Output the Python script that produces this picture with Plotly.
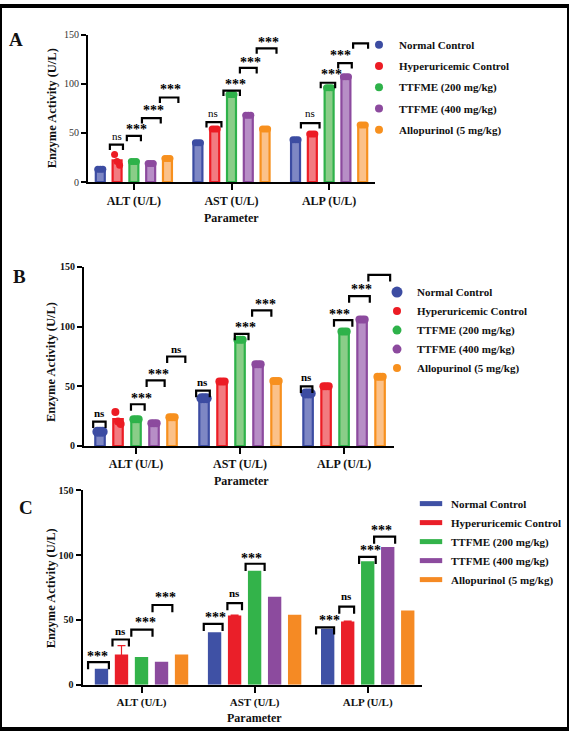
import plotly.graph_objects as go

groups = ["Normal Control", "Hyperuricemic Control", "TTFME (200 mg/kg)",
          "TTFME (400 mg/kg)", "Allopurinol (5 mg/kg)"]
params = ["ALT (U/L)", "AST (U/L)", "ALP (U/L)"]

# bar heights, one list per group, values for ALT, AST, ALP
a_means = [[13, 40, 43], [22, 54, 49], [21, 89, 96], [19, 68, 107], [24, 54, 58]]
b_means = [[12, 40, 44], [22.5, 54, 50], [22.5, 89, 96], [19, 68.5, 106], [24, 54.5, 58]]
c_means = [[12.4, 40.5, 43.2], [23.3, 53.4, 48.7], [21.4, 88, 95.3], [17.7, 67.8, 106.2], [23.3, 54, 57.3]]

# individual points that sit away from the bar top: (group, parameter) -> values
a_points = {(1, 0): [28, 21, 17]}
b_points = {(1, 0): [28.5, 20.5, 18.5]}

# error bar of panel C (Hyperuricemic Control only is visible)
c_err_hc = [6.8, 0.4, 0.4]

# significance brackets: (parameter, from slot, to slot, height, label, label slot, label height)
a_brackets = [
    (0, 0.57, 1.35, 38, "ns", 0.99, 47),
    (0, 1.58, 2.42, 47, "***", 2.18, 57),
    (0, 2.48, 3.60, 65, "***", 3.19, 76),
    (0, 3.55, 4.65, 86, "***", 4.17, 97),
    (1, 0.51, 1.40, 61, "ns", 0.87, 70.5),
    (1, 1.52, 2.50, 93, "***", 2.24, 102),
    (1, 2.50, 3.50, 116, "***", 3.13, 125),
    (1, 3.50, 4.68, 136, "***", 4.23, 145),
    (2, 0.32, 1.43, 60, "ns", 0.87, 70),
    (2, 1.50, 2.36, 101, "***", 2.16, 112),
    (2, 2.54, 3.35, 121, "***", 2.70, 132),
    (2, 3.43, 4.32, 141, "***", 3.65, 152),
]
b_brackets = [
    (0, -0.38, 0.31, 20.5, "ns", -0.03, 28),
    (0, 1.72, 2.48, 35, "***", 2.28, 42),
    (0, 2.59, 3.59, 55, "***", 3.26, 62),
    (0, 3.73, 4.74, 75, "ns", 4.24, 81.6),
    (1, -0.44, 0.32, 46.4, "ns", -0.06, 54),
    (1, 1.71, 2.47, 94, "***", 2.28, 102),
    (1, 2.67, 3.74, 113.7, "***", 3.39, 121),
    (2, -0.40, 0.24, 50, "ns", -0.07, 57.7),
    (2, 1.44, 2.46, 105.5, "***", 1.76, 112.6),
    (2, 2.28, 3.43, 125.6, "***", 2.98, 133.8),
    (2, 3.35, 4.56, 143.4, "ns", 3.94, 151),
]
c_brackets = [
    (0, -0.67, 0.37, 17.5, "***", -0.18, 24.3),
    (0, 0.55, 1.37, 34.9, "ns", 0.97, 41.7),
    (0, 1.49, 2.55, 42.5, "***", 2.18, 50),
    (0, 2.55, 3.54, 61.5, "***", 3.22, 69.8),
    (1, -0.54, 0.40, 47, "***", 0.04, 53.9),
    (1, 0.64, 1.37, 63, "ns", 1.0, 70.6),
    (1, 1.55, 2.50, 93.3, "***", 1.82, 100),
    (2, -0.58, 0.32, 44.3, "***", 0.07, 51.8),
    (2, 0.58, 1.32, 60.2, "ns", 0.96, 68.3),
    (2, 1.57, 2.40, 98.6, "***", 2.12, 105.7),
    (2, 2.32, 3.37, 114.3, "***", 2.67, 120.9),
]

line_cols = ["#3C4CA2", "#EC1C24", "#2EB24A", "#8C4A9E", "#F7901E"]
fill_cols = ["#7E87C4", "#F27B80", "#8ACD88", "#B78EC6", "#FBC189"]
solid_cols = ["#3F51A5", "#EA1F29", "#33B34A", "#8C4B9E", "#F58A24"]

SERIF = "Liberation Serif"
W, H = 569, 735

panels = [
    dict(tag="A", ax="", means=a_means, points=a_points, brackets=a_brackets, style="dots",
         px=(88, 375), py=(29, 179), xr=[-0.47, 2.47], pitch=0.172, bw=0.092,
         legend="legend", leg=(359, 82.5), letter=(16, 34), ytitle=(52, 104), xtitle=(231, 216),
         yfont=dict(size=10, color="#333"), xfont=12, dot=[7, 7, 7, 7, 7], key=[8, 8, 8, 8, 8]),
    dict(tag="B", ax="2", means=b_means, points=b_points, brackets=b_brackets, style="dots",
         px=(84, 394), py=(265.3, 447.3), xr=[-0.5, 2.48], pitch=0.173, bw=0.091,
         legend="legend2", leg=(377, 329.5), letter=(19, 274.5), ytitle=(51, 362), xtitle=(241, 483),
         yfont=dict(size=10, color="#111", weight="bold"), xfont=12,
         dot=[10, 8, 8, 8, 8], key=[11, 8, 9, 9, 8]),
    dict(tag="C", ax="3", means=c_means, points={}, brackets=c_brackets, style="solid",
         px=(82.7, 422), py=(492.3, 690), xr=[-0.52, 2.48], pitch=0.177, bw=0.118,
         legend="legend3", leg=(411, 544.5), letter=(26, 510), ytitle=(51, 592), xtitle=(254, 724),
         yfont=dict(size=10, color="#111", weight="bold"), xfont=11),
]

fig = go.Figure()
shapes = []
annotations = []
layout = {}


def paper_text(x, y, text, size, weight="bold", angle=0):
    return dict(x=x / W, y=1 - y / H, xref="paper", yref="paper", text=text,
                xanchor="center", yanchor="middle", textangle=angle, showarrow=False,
                font=dict(family=SERIF, size=size, color="#111", weight=weight))


for p in panels:
    xa, ya = "x" + p["ax"], "y" + p["ax"]
    pitch, bw = p["pitch"], p["bw"]
    for k, g in enumerate(groups):
        off = (k - 2) * pitch
        if p["style"] == "dots":
            fig.add_trace(go.Bar(
                x=[0, 1, 2], y=p["means"][k], offset=off - bw / 2, width=bw,
                marker=dict(color=fill_cols[k], line=dict(color=line_cols[k], width=2.2)),
                showlegend=False, xaxis=xa, yaxis=ya))
            px_, py_ = [], []
            for i in range(3):
                vals = p["points"].get((k, i), [p["means"][k][i]] * 3)
                for j, v in enumerate(vals):
                    px_.append(i + off + (j - 1) * bw * 0.28)
                    py_.append(v)
            fig.add_trace(go.Scatter(
                x=px_, y=py_, mode="markers", marker=dict(color=line_cols[k], size=p["dot"][k]),
                showlegend=False, xaxis=xa, yaxis=ya, cliponaxis=False))
            fig.add_trace(go.Scatter(
                x=[None], y=[None], mode="markers", name=g,
                marker=dict(color=line_cols[k], size=p["key"][k]),
                legend=p["legend"], legendgroup=p["tag"] + str(k), xaxis=xa, yaxis=ya))
        else:
            err = dict(type="data", array=c_err_hc, color=solid_cols[k], thickness=1.2, width=4,
                       visible=True) if k == 1 else None
            fig.add_trace(go.Bar(
                x=[0, 1, 2], y=p["means"][k], offset=off - bw / 2, width=bw,
                marker=dict(color=solid_cols[k], line=dict(width=0)),
                error_y=err, showlegend=False, xaxis=xa, yaxis=ya))
            # flat legend key like the reference
            fig.add_trace(go.Scatter(
                x=[None], y=[None], mode="markers", name=g,
                marker=dict(symbol="line-ew", size=16, color=solid_cols[k],
                            line=dict(color=solid_cols[k], width=5.5)),
                legend=p["legend"], xaxis=xa, yaxis=ya))

    for (i, s0, s1, yb, lab, ts, ty) in p["brackets"]:
        x0 = i + (s0 - 2) * pitch
        x1 = i + (s1 - 2) * pitch
        d = 5.5
        shapes.append(dict(type="path", xref=xa, yref=ya,
                           path=f"M{x0},{yb - d} L{x0},{yb} L{x1},{yb} L{x1},{yb - d}",
                           line=dict(color="black", width=2.2)))
        star = lab == "***"
        annotations.append(dict(
            x=i + (ts - 2) * pitch, y=ty, xref=xa, yref=ya, text=lab, showarrow=False,
            xanchor="center", yanchor="middle", yshift=-3 if star else 0,
            font=dict(family=SERIF, size=14 if star else 11, color="black",
                      weight="bold" if (star or p["tag"] != "A") else "normal")))

    x0p, x1p = p["px"]
    y0p, y1p = p["py"]
    layout["xaxis" + p["ax"]] = dict(
        domain=[x0p / W, x1p / W], range=p["xr"], anchor=ya,
        tickvals=[0, 1, 2], ticktext=params, showline=True, linecolor="black", linewidth=2.2,
        ticks="outside", ticklen=6, tickwidth=2.2, tickcolor="black", showgrid=False,
        zeroline=False, fixedrange=True,
        tickfont=dict(family=SERIF, size=p["xfont"], color="#111", weight="bold"))
    layout["yaxis" + p["ax"]] = dict(
        domain=[1 - y1p / H, 1 - y0p / H], range=[0, 150], anchor=xa,
        tickvals=[0, 50, 100, 150], showline=True, linecolor="black", linewidth=2.2,
        ticks="outside", ticklen=5, tickwidth=1.8, tickcolor="black", showgrid=False,
        zeroline=False, fixedrange=True,
        tickfont=dict(family=SERIF, **p["yfont"]))

    lx, ly = p["leg"]
    layout[p["legend"]] = dict(
        x=lx / W, y=1 - ly / H, xanchor="left", yanchor="middle",
        bgcolor="rgba(0,0,0,0)", tracegroupgap=2.25 if p["tag"] == "A" else 0,
        font=dict(family=SERIF, size=11, color="#111", weight="bold"))

    annotations.append(paper_text(*p["letter"], p["tag"], 19))
    annotations.append(paper_text(*p["ytitle"], "Enzyme Activity (U/L)", 12.5, angle=-90))
    annotations.append(paper_text(*p["xtitle"], "Parameter", 12))

# black frame around the figure
shapes.append(dict(type="rect", xref="paper", yref="paper", x0=0, y0=0, x1=1, y1=1,
                   line=dict(color="black", width=4)))

fig.update_layout(
    width=W, height=H, margin=dict(l=0, r=0, t=0, b=0),
    paper_bgcolor="white", plot_bgcolor="white", barmode="overlay",
    shapes=shapes, annotations=annotations, **layout)

fig.write_html("out.html", config={"displayModeBar": False},
               post_script="document.body.style.margin='0px';document.body.style.overflow='hidden';")
